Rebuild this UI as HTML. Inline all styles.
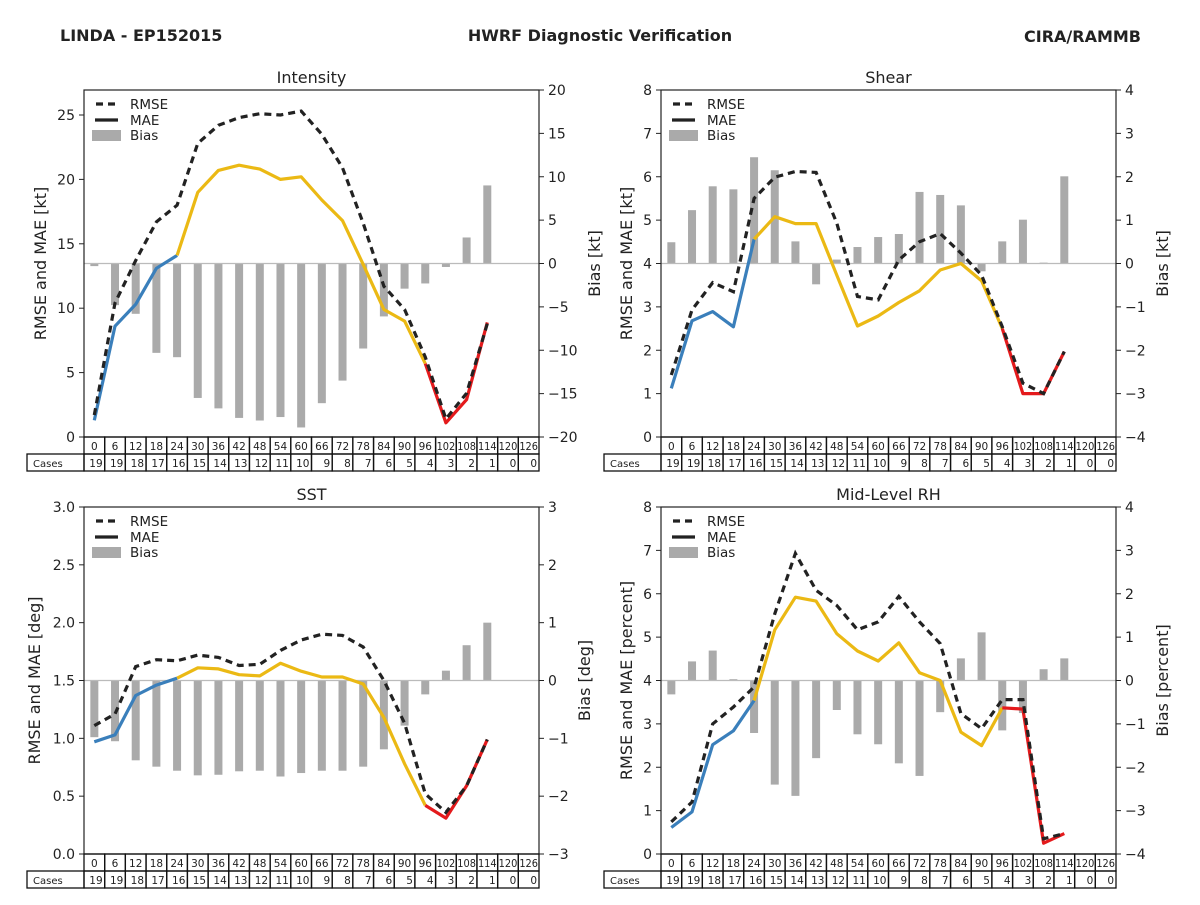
<!DOCTYPE html>
<html><head><meta charset="utf-8"><style>
body{margin:0;background:#fff;}
svg text{font-family:"DejaVu Sans","Liberation Sans",sans-serif;fill:#222;}
</style></head><body>
<svg id="c" width="1200" height="900" xmlns="http://www.w3.org/2000/svg">
<text x="60" y="41" font-size="16" font-weight="bold">LINDA - EP152015</text>
<text x="600" y="41" font-size="16" font-weight="bold" text-anchor="middle">HWRF Diagnostic Verification</text>
<text x="1141" y="42" font-size="16" font-weight="bold" text-anchor="end">CIRA/RAMMB</text>
</svg>
<script>
const leads=[0,6,12,18,24,30,36,42,48,54,60,66,72,78,84,90,96,102,108,114,120,126];
const cases=[19,19,18,17,16,15,14,13,12,11,10,9,8,7,6,5,4,3,2,1,0,0];
const intMae=[1.3,8.6,10.3,13.1,14.1,19.0,20.7,21.1,20.8,20.0,20.2,18.4,16.8,13.4,9.9,9.0,5.7,1.1,2.9,8.9];
const intRmse=[1.7,10.4,13.7,16.7,18.0,22.8,24.2,24.8,25.1,25.0,25.3,23.5,20.9,16.6,11.7,9.9,6.2,1.4,3.4,8.8];
const intBias=[-0.3,-4.8,-5.8,-10.3,-10.8,-15.5,-16.7,-17.8,-18.1,-17.7,-18.9,-16.1,-13.5,-9.8,-6.1,-2.9,-2.3,-0.4,3.0,9.0];
const shrMae=[1.12,2.68,2.89,2.54,4.56,5.08,4.92,4.92,3.73,2.56,2.79,3.1,3.37,3.85,4.0,3.6,2.5,1.0,1.0,1.97];
const shrRmse=[1.43,2.93,3.56,3.35,5.5,5.99,6.12,6.1,4.93,3.24,3.16,4.08,4.5,4.69,4.24,3.73,2.54,1.24,1.0,1.97];
const shrBias=[0.49,1.23,1.78,1.71,2.45,2.15,0.51,-0.48,0.09,0.38,0.61,0.68,1.65,1.58,1.34,-0.18,0.51,1.01,0.02,2.01];
const sstMae=[0.97,1.03,1.37,1.46,1.52,1.61,1.60,1.55,1.54,1.65,1.58,1.53,1.53,1.47,1.18,0.78,0.42,0.31,0.59,0.99];
const sstRmse=[1.11,1.21,1.62,1.68,1.67,1.72,1.70,1.63,1.64,1.76,1.85,1.90,1.89,1.79,1.50,1.13,0.52,0.36,0.59,0.99];
const sstBias=[-0.98,-1.05,-1.38,-1.49,-1.56,-1.64,-1.63,-1.57,-1.56,-1.66,-1.60,-1.56,-1.56,-1.49,-1.19,-0.78,-0.24,0.17,0.61,1.0];
const rhMae=[0.61,0.97,2.52,2.84,3.54,5.17,5.92,5.83,5.08,4.68,4.45,4.87,4.18,4.0,2.81,2.5,3.37,3.34,0.25,0.47];
const rhRmse=[0.74,1.2,3.0,3.39,3.85,5.54,6.93,6.08,5.73,5.17,5.35,5.94,5.35,4.85,3.24,2.89,3.56,3.56,0.35,0.47];
const rhBias=[-0.32,0.44,0.69,0.03,-1.21,-2.4,-2.66,-1.79,-0.68,-1.24,-1.47,-1.91,-2.2,-0.73,0.51,1.11,-1.15,-0.75,0.26,0.51];
const intLeftTicks=[0,5,10,15,20,25], intRightTicks=[-20,-15,-10,-5,0,5,10,15,20];
const shrLeftTicks=[0,1,2,3,4,5,6,7,8], shrRightTicks=[-4,-3,-2,-1,0,1,2,3,4];
const sstLeftTicks=[0,0.5,1,1.5,2,2.5,3], sstRightTicks=[-3,-2,-1,0,1,2,3];

const svg=document.getElementById('c');
const NS='http://www.w3.org/2000/svg';
function mk(tag,attrs,parent,txt){const e=document.createElementNS(NS,tag);for(const k in attrs)e.setAttribute(k,attrs[k]);if(txt!==undefined)e.textContent=txt;(parent||svg).appendChild(e);return e;}

function panel(o){
  const g=mk('g',{});
  
  
  const L=o.x0,T=o.y0,W=455,H=347,R=L+W,B=T+H;
  const cw=W/22;
  const xs=i=>L+cw*(i+0.5);
  const yl=v=>B-(v-o.lmin)/(o.lmax-o.lmin)*H;
  const yr=v=>B-(v-o.rmin)/(o.rmax-o.rmin)*H;
  o.bias.forEach((v,i)=>{
    const y0=yr(0),y1=yr(v);
    const b=mk('rect',{x:xs(i)-4,y:Math.min(y0,y1),width:8,height:Math.abs(y1-y0),fill:'#aaaaaa'},g);
    
    
  });
  const z=mk('line',{x1:L,x2:R,y1:yr(0),y2:yr(0),stroke:'#bbbbbb','stroke-width':1.2},g);
  
  
  const segs=[[0,4,'#3a7fbb'],[4,16,'#ebb914'],[16,19,'#e41a1c']];
  segs.forEach(s=>{
    let p='';for(let i=s[0];i<=s[1]&&i<o.mae.length;i++)p+=(i==s[0]?'M':'L')+xs(i).toFixed(1)+','+yl(o.mae[i]).toFixed(1);
    const e=mk('path',{d:p,fill:'none',stroke:s[2],'stroke-width':3.2,'stroke-linejoin':'round'},g);
    
    
  });
  let p='';o.rmse.forEach((v,i)=>{p+=(i?'L':'M')+xs(i).toFixed(1)+','+yl(v).toFixed(1);});
  const rl=mk('path',{d:p,fill:'none',stroke:'#222','stroke-width':3.2,'stroke-dasharray':'7,5'},g);
  
  
  const fr=mk('rect',{x:L,y:T,width:W,height:H,fill:'none',stroke:'#222','stroke-width':1.2},g);
  
  
  o.lt.forEach(v=>{
    mk('line',{x1:L-5,x2:L,y1:yl(v),y2:yl(v),stroke:'#222'},g);
    const t=mk('text',{x:L-9,y:yl(v)+5,'font-size':14,'text-anchor':'end'},g,o.fmt?v.toFixed(1):v);
    
    
  });
  o.rt.forEach(v=>{
    mk('line',{x1:R,x2:R+5,y1:yr(v),y2:yr(v),stroke:'#222'},g);
    const t=mk('text',{x:R+9,y:yr(v)+5,'font-size':14},g,String(v).replace('-','\u2212'));
    
    
  });
  const tt=mk('text',{x:L+W/2,y:T-7,'font-size':16,'text-anchor':'middle'},g,o.title);
  
  
  const ll=mk('text',{x:0,y:0,'font-size':16,'text-anchor':'middle',transform:`translate(${o.llx},${T+H/2}) rotate(-90)`},g,o.ltitle);
  
  
  const rlab=mk('text',{x:0,y:0,'font-size':16,'text-anchor':'middle',transform:`translate(${o.rlx},${T+H/2}) rotate(-90)`},g,o.rtitle);
  
  
  const lg=mk('g',{},g);
  
  
  mk('line',{x1:L+12,x2:L+34,y1:T+14,y2:T+14,stroke:'#222','stroke-width':3.2,'stroke-dasharray':'7,5'},lg);
  mk('line',{x1:L+11,x2:L+34,y1:T+30,y2:T+30,stroke:'#222','stroke-width':3.2},lg);
  mk('rect',{x:L+8,y:T+40,width:29,height:11,fill:'#aaaaaa'},lg);
  mk('text',{x:L+46,y:T+19,'font-size':13.5},lg,'RMSE');
  mk('text',{x:L+46,y:T+35,'font-size':13.5},lg,'MAE');
  mk('text',{x:L+46,y:T+50,'font-size':13.5},lg,'Bias');
  const tb=mk('g',{},g);
  
  
  mk('rect',{x:L-57,y:B+17,width:57,height:17,fill:'none',stroke:'#111','stroke-width':1.3},tb);
  mk('text',{x:L-51,y:B+30,'font-size':10},tb,'Cases');
  leads.forEach((ld,i)=>{
    const cx=L+cw*i;
    mk('rect',{x:cx,y:B,width:cw,height:17,fill:'none',stroke:'#111','stroke-width':1.3},tb);
    mk('rect',{x:cx,y:B+17,width:cw,height:17,fill:'none',stroke:'#111','stroke-width':1.3},tb);
    mk('text',{x:cx+cw/2,y:B+13,'font-size':10.5,'text-anchor':'middle','textLength':ld>=100?cw-2:'', 'lengthAdjust':'spacingAndGlyphs'},tb,ld);
    mk('text',{x:cx+cw-2,y:B+30,'font-size':10.5,'text-anchor':'end'},tb,cases[i]);
  });
}
panel({key:'intensity',x0:84,y0:90,title:'Intensity',mae:intMae,rmse:intRmse,bias:intBias,lmin:0,lmax:26.94,rmin:-20,rmax:20,lt:intLeftTicks,rt:intRightTicks,ltitle:'RMSE and MAE [kt]',rtitle:'Bias [kt]',llx:46,rlx:600});
panel({key:'shear',x0:661,y0:90,title:'Shear',mae:shrMae,rmse:shrRmse,bias:shrBias,lmin:0,lmax:8,rmin:-4,rmax:4,lt:shrLeftTicks,rt:shrRightTicks,ltitle:'RMSE and MAE [kt]',rtitle:'Bias [kt]',llx:632,rlx:1168});
panel({key:'sst',x0:84,y0:507,title:'SST',mae:sstMae,rmse:sstRmse,bias:sstBias,lmin:0,lmax:3,rmin:-3,rmax:3,lt:sstLeftTicks,rt:sstRightTicks,fmt:true,ltitle:'RMSE and MAE [deg]',rtitle:'Bias [deg]',llx:40,rlx:590});
panel({key:'rh',x0:661,y0:507,title:'Mid-Level RH',mae:rhMae,rmse:rhRmse,bias:rhBias,lmin:0,lmax:8,rmin:-4,rmax:4,lt:shrLeftTicks,rt:shrRightTicks,ltitle:'RMSE and MAE [percent]',rtitle:'Bias [percent]',llx:632,rlx:1168});
</script>
</body></html>
